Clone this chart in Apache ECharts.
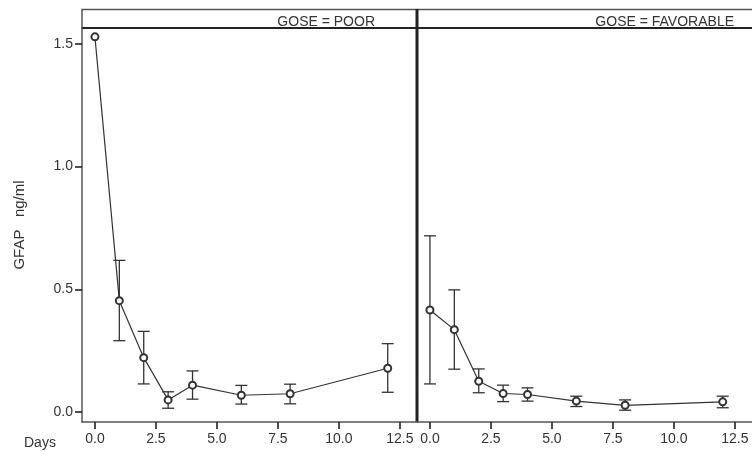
<!DOCTYPE html>
<html><head><meta charset="utf-8">
<script src="https://cdn.jsdelivr.net/npm/echarts@6/dist/echarts.min.js"></script>
<style>html,body{margin:0;padding:0;background:#fff}#c{width:752px;height:451px}</style>
</head><body><div id="c"></div>
<script>
var days = [0, 1, 2, 3, 4, 6, 8, 12];
var poorMean  = [1.528, 0.454, 0.222, 0.050, 0.110, 0.069, 0.075, 0.179];
var poorUpper = [null, 0.618, 0.329, 0.083, 0.168, 0.109, 0.114, 0.279];
var poorLower = [null, 0.291, 0.115, 0.016, 0.053, 0.033, 0.034, 0.081];
var favMean  = [0.416, 0.336, 0.126, 0.076, 0.072, 0.045, 0.028, 0.042];
var favUpper = [0.718, 0.498, 0.176, 0.110, 0.099, 0.065, 0.050, 0.065];
var favLower = [0.115, 0.175, 0.079, 0.043, 0.045, 0.023, 0.008, 0.018];
var xTicks = [0, 2.5, 5, 7.5, 10, 12.5];
var yTicks = [0, 0.5, 1.0, 1.5];
var panelTitles = ['GOSE = POOR', 'GOSE = FAVORABLE'];

var chart = echarts.init(document.getElementById('c'));
var FONT = 'Liberation Sans, Arial, sans-serif';
var INK = '#333';

function pairs(m){ return days.map(function(d,i){ return [d, m[i]]; }); }
function bars(u,l){ var r=[]; days.forEach(function(d,i){ if(u[i]!=null) r.push([d,l[i],u[i]]); }); return r; }

function errItem(params, api){
  var x = api.value(0);
  var lo = api.coord([x, api.value(1)]);
  var hi = api.coord([x, api.value(2)]);
  var w = 6;
  var st = {stroke: INK, lineWidth: 1.3};
  return {type:'group', children:[
    {type:'line', shape:{x1:lo[0], y1:lo[1], x2:hi[0], y2:hi[1]}, style:st},
    {type:'line', shape:{x1:lo[0]-w, y1:lo[1], x2:lo[0]+w, y2:lo[1]}, style:st},
    {type:'line', shape:{x1:hi[0]-w, y1:hi[1], x2:hi[0]+w, y2:hi[1]}, style:st}
  ]};
}

function xAx(gi){
  return {gridIndex:gi, type:'value', min:-0.53, max:13.2,
    axisLine:{show:true, onZero:false, lineStyle:{color:'#555', width:1.5}},
    axisTick:{show:true, customValues:xTicks, length:7, lineStyle:{color:'#222', width:1.6}},
    axisLabel:{customValues:xTicks, color:INK, fontFamily:FONT, fontSize:14, margin:10,
      formatter:function(v){return v.toFixed(1);}},
    splitLine:{show:false}};
}
function yAx(gi){
  var a = {gridIndex:gi, type:'value', min:-0.04, max:1.564,
    axisLine:{show:gi===0, onZero:false, lineStyle:{color:'#555', width:1.5}},
    axisTick:{show:gi===0, customValues:yTicks, length:7, lineStyle:{color:'#222', width:1.6}},
    axisLabel:{show:gi===0, customValues:yTicks, color:INK, fontFamily:FONT, fontSize:14, margin:9,
      formatter:function(v){return v.toFixed(1);}},
    splitLine:{show:false}};
  if(gi===0){
    a.name='GFAP   ng/ml'; a.nameLocation='middle'; a.nameGap=55;
    a.nameTextStyle={color:INK, fontFamily:FONT, fontSize:15};
  }
  return a;
}

chart.setOption({
  animation:false,
  title:[
    {text:'Days', left:19, top:431, textStyle:{color:INK, fontFamily:FONT, fontSize:14, fontWeight:'normal'}},
    {text:panelTitles[0], right:752-380, top:10, textStyle:{color:INK, fontFamily:FONT, fontSize:14, fontWeight:'normal'}},
    {text:panelTitles[1], right:752-739, top:10, textStyle:{color:INK, fontFamily:FONT, fontSize:14, fontWeight:'normal'}}
  ],
  grid:[
    {left:82, right:335, top:28, bottom:29},
    {left:417, right:0, top:28, bottom:29}
  ],
  xAxis:[xAx(0), xAx(1)],
  yAxis:[yAx(0), yAx(1)],
  graphic:[
    {type:'rect', shape:{x:82, y:9.5, width:680, height:18.5}, style:{fill:'none', stroke:'#555', lineWidth:1.5}},
    {type:'line', shape:{x1:82, y1:28, x2:752, y2:28}, style:{stroke:'#222', lineWidth:2.2}},
    {type:'line', shape:{x1:417, y1:9, x2:417, y2:422}, style:{stroke:'#222', lineWidth:3}}
  ],
  series:[
    {type:'custom', xAxisIndex:0, yAxisIndex:0, renderItem:errItem, data:bars(poorUpper,poorLower), z:2},
    {type:'line', xAxisIndex:0, yAxisIndex:0, data:pairs(poorMean), symbol:'emptyCircle', symbolSize:7,
      lineStyle:{color:INK, width:1.2}, itemStyle:{color:INK, borderWidth:1.1}, z:3},
    {type:'custom', xAxisIndex:1, yAxisIndex:1, renderItem:errItem, data:bars(favUpper,favLower), z:2},
    {type:'line', xAxisIndex:1, yAxisIndex:1, data:pairs(favMean), symbol:'emptyCircle', symbolSize:7,
      lineStyle:{color:INK, width:1.2}, itemStyle:{color:INK, borderWidth:1.1}, z:3}
  ]
});
</script></body></html>
